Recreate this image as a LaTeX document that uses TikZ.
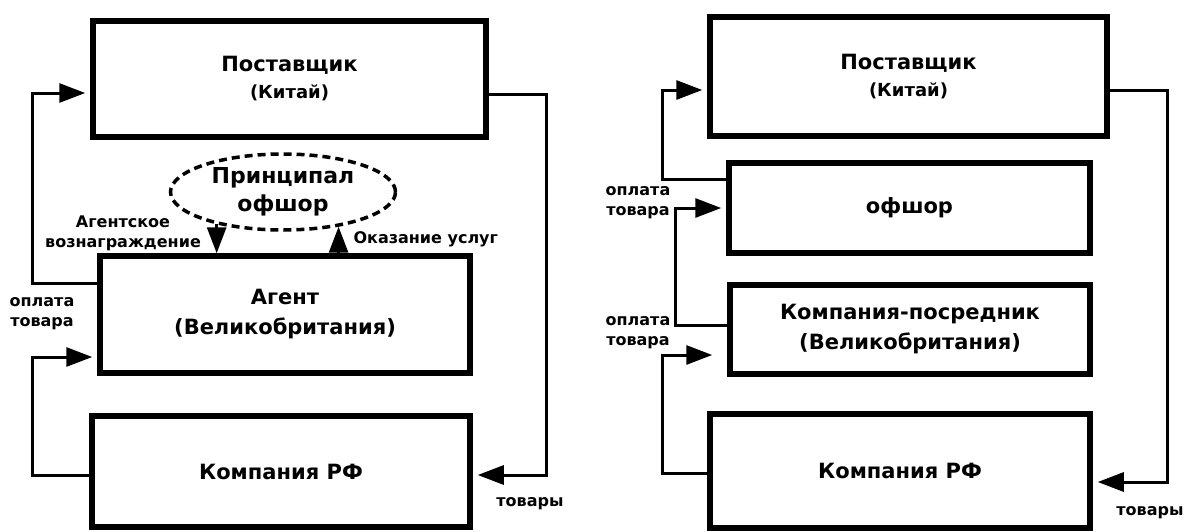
\documentclass[tikz,border=0pt]{standalone}
\usepackage{fontspec}
\setmainfont{DejaVu Sans}
\usetikzlibrary{shapes,arrows.meta,positioning,calc}

\begin{document}
\begin{tikzpicture}[x=1pt,y=-1pt,
    block/.style={draw, line width=5.5pt, align=center, inner sep=2pt,
      font=\bfseries\fontsize{21}{30}\selectfont},
    flow/.style={line width=3pt, -{Triangle[length=26pt,width=19pt]},
      shorten >=5pt},
    note/.style={font=\bfseries\fontsize{16}{20}\selectfont, align=center}]
  \useasboundingbox (0,0) rectangle (1184,531);

  % Left scheme: agent
  \node[block, minimum width=393pt, minimum height=116pt, font=\bfseries\fontsize{21}{27}\selectfont]
    (supL) at (289.5,79) {Поставщик\\{\fontsize{18}{27}\selectfont (Китай)}};
  \node[draw, ellipse, line width=3.5pt, dash pattern=on 8pt off 5pt,
        minimum width=225pt, minimum height=76pt, inner sep=0pt, align=center,
        font=\bfseries\fontsize{22}{28}\selectfont] (princL) at (283,192) {Принципал\\офшор};
  \node[block, minimum width=370pt, minimum height=117pt] (agentL) at (285,314.5)
    {Агент\\(Великобритания)};
  \node[block, minimum width=378pt, minimum height=111pt] (rfL) at (281,471.5) {Компания РФ};
  \node[note] (feeL) at (123,233) {Агентское\\вознаграждение};
  \node[note, anchor=west] (servL) at (350,239) {Оказание услуг};
  \node[note] (payL) at (42,314) {оплата\\товара};
  \node[note] (goodsL) at (530,504) {товары};
  % Arrows
  \draw[flow] ([yshift=31.5pt]agentL.west) -- ++(-65,0) |- ([yshift=-14pt]supL.west);
  \draw[flow] ([yshift=-3.5pt]rfL.west) -- ++(-57,0) |- ([yshift=-42.5pt]agentL.west);
  \draw[flow] ([yshift=-15pt]supL.east) -- ++(58,0) |- ([yshift=-3.5pt]rfL.east);
  \draw[flow, shorten >=0pt] (princL.206) -- (princL.206 |- agentL.north);
  \draw[flow, shorten >=0pt] (princL.328 |- agentL.north) -- (princL.328);

  % Right scheme: intermediary company
  \node[block, minimum width=397pt, minimum height=119pt, font=\bfseries\fontsize{21}{27}\selectfont]
    (supR) at (908.5,76.5) {Поставщик\\{\fontsize{18}{27}\selectfont (Китай)}};
  \node[block, minimum width=361pt, minimum height=90pt] (offR) at (909.5,208) {офшор};
  \node[block, minimum width=360pt, minimum height=89pt] (midR) at (910,329.5)
    {Компания-посредник\\(Великобритания)};
  \node[block, minimum width=380pt, minimum height=114pt] (rfR) at (900,471) {Компания РФ};
  \node[note] (payR) at (638,203) {оплата\\товара};
  \node[note] (payR2) at (638,332.5) {оплата\\товара};
  \node[note] (goodsR) at (1150,513) {товары};
  % Arrows
  \draw[flow] ([yshift=29pt]offR.west) -- ++(-64,0) |- ([yshift=-13.5pt]supR.west);
  \draw[flow] ([yshift=4.5pt]midR.west) -- ++(-52,0) |- (offR.west);
  \draw[flow, shorten >=15pt] ([yshift=-2pt]rfR.west) -- ++(-45,0) |- ([yshift=-25.5pt]midR.west);
  \draw[flow] ([yshift=-13.5pt]supR.east) -- ++(58,0) |- ([yshift=-11pt]rfR.east);
\end{tikzpicture}
\end{document}
